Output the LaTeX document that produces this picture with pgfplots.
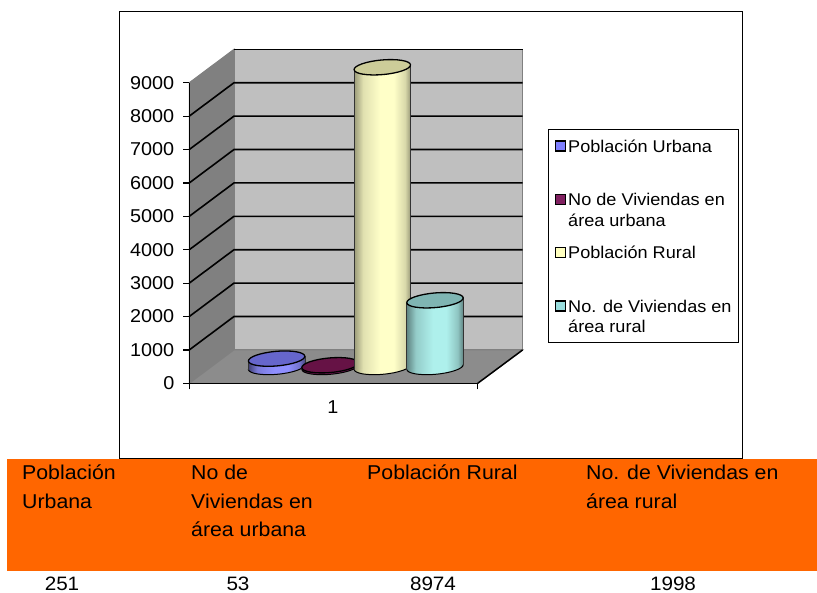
\documentclass[border=0pt]{standalone}
\usepackage{fontspec}
\setmainfont[FakeStretch=1.065]{Liberation Sans}
\usepackage{pgfplots}
\pgfplotsset{compat=1.18}
\definecolor{cA}{HTML}{8F8FFF}
\definecolor{cB}{HTML}{7A1A5A}
\definecolor{cC}{HTML}{FFFFC8}
\definecolor{cD}{HTML}{AEF0EC}
\definecolor{capA}{HTML}{6666CC}
\definecolor{capB}{HTML}{661245}
\definecolor{capC}{HTML}{CCCC99}
\definecolor{capD}{HTML}{7FB5B3}
\definecolor{swA}{HTML}{7F7FFF}
\definecolor{swB}{HTML}{802060}
\definecolor{swC}{HTML}{FFFFBF}
\definecolor{swD}{HTML}{99DDDD}
\definecolor{orangeband}{HTML}{FF6600}
\pgfdeclarehorizontalshading{cylA}{100bp}{color(0bp)=(cA!45!black); color(25bp)=(cA!45!black); color(33bp)=(cA!85!black); color(48bp)=(cA); color(60bp)=(cA); color(70bp)=(cA!80!black); color(75bp)=(cA!50!black); color(100bp)=(cA!50!black)}
\pgfdeclarehorizontalshading{cylB}{100bp}{color(0bp)=(cB!45!black); color(25bp)=(cB!45!black); color(33bp)=(cB!85!black); color(48bp)=(cB); color(60bp)=(cB); color(70bp)=(cB!80!black); color(75bp)=(cB!50!black); color(100bp)=(cB!50!black)}
\pgfdeclarehorizontalshading{cylC}{100bp}{color(0bp)=(cC!60!black); color(25bp)=(cC!60!black); color(33bp)=(cC!88!black); color(48bp)=(cC); color(60bp)=(cC); color(70bp)=(cC!85!black); color(75bp)=(cC!60!black); color(100bp)=(cC!60!black)}
\pgfdeclarehorizontalshading{cylD}{100bp}{color(0bp)=(cD!55!black); color(25bp)=(cD!55!black); color(33bp)=(cD!85!black); color(48bp)=(cD); color(60bp)=(cD); color(70bp)=(cD!82!black); color(75bp)=(cD!55!black); color(100bp)=(cD!55!black)}
\newcommand\declcyl[1]{%
  \pgfdeclareplotmark{base#1}{\pgfpathellipse{\pgfpointorigin}{\pgfqpoint{28.2pt}{2.47pt}}{\pgfqpoint{-0.64pt}{7.27pt}}\pgfshadepath{cyl#1}{0}\pgfsetstrokecolor{black}\pgfsetlinewidth{1pt}\pgfusepath{stroke}}%
  \pgfdeclareplotmark{cap#1}{\pgfpathellipse{\pgfpointorigin}{\pgfqpoint{28.2pt}{2.47pt}}{\pgfqpoint{-0.64pt}{7.27pt}}\pgfsetfillcolor{cap#1}\pgfsetstrokecolor{black}\pgfsetlinewidth{1.3pt}\pgfusepath{fill,stroke}}%
}
\declcyl{A}\declcyl{B}\declcyl{C}\declcyl{D}
% #1 series letter, #2 x1, #3 centre, #4 x2, #5 value, #6-#9 corners
\newcommand\cyl[9]{%
  \addplot[only marks,mark=base#1] coordinates {(#3,0)};
  \addplot[shade,shading=cyl#1,shading angle=0,draw=none] coordinates {(#2,#6)(#2,#7)(#4,#9)(#4,#8)} --cycle;
  \addplot[black!80,line width=1pt] coordinates {(#2,#6)(#2,#7)};
  \addplot[black!80,line width=1pt] coordinates {(#4,#8)(#4,#9)};
  \addplot[only marks,mark=cap#1] coordinates {(#3,#5)};
}
\pgfplotsset{legsw/.style={/pgfplots/legend image code/.code={\draw[##1,line width=1.5pt] (6.8pt,5pt) rectangle (16.8pt,15pt);\path[draw=none,fill=none] (0pt,0pt) -- (19.7pt,0pt);}}}
\newcommand\legtext[1]{\parbox[t]{170pt}{\baselineskip=20.5pt\raggedright #1}}
\begin{document}
\begin{tikzpicture}
\useasboundingbox (0pt,-592pt) rectangle (817pt,0pt);
\begin{scope}[x=1pt,y=-1pt]
  \fill[white] (0,0) rectangle (817,592);
  \draw[black,line width=0.9pt] (119.5,11) rectangle (742,458);
  \fill[orangeband] (7,459) rectangle (817,571);
  \begin{scope}[font=\fontsize{20}{28.5}\selectfont,inner sep=0pt]
    \node[anchor=base west] at (22,479.5) {\parbox[t]{150pt}{\baselineskip=28.5pt\raggedright Población\\Urbana}};
    \node[anchor=base west] at (191,479.5) {\parbox[t]{150pt}{\baselineskip=28.5pt\raggedright No de\\Viviendas en\\área urbana}};
    \node[anchor=base west] at (367,479.5) {Población Rural};
    \node[anchor=base west] at (586,479.5) {\parbox[t]{220pt}{\baselineskip=28.5pt\raggedright No. de Viviendas en\\área rural}};
  \end{scope}
  \begin{scope}[font=\fontsize{19.4}{24}\selectfont,inner sep=0pt]
    \node[anchor=base] at (62,590.6) {251};
    \node[anchor=base] at (238,590.6) {53};
    \node[anchor=base] at (433,590.6) {8974};
    \node[anchor=base] at (673,590.6) {1998};
  \end{scope}
\end{scope}
\begin{axis}[
  at={(189.3pt,-383.3pt)},anchor=south west,
  scale only axis,width=288.4pt,height=300.6pt,
  xmin=189.3,xmax=477.7,ymin=0,ymax=9000,clip=false,axis on top,
  axis x line*=bottom,axis y line*=left,
  axis line style={black,line width=1.3pt},
  tick style={black,line width=1.2pt},
  major tick length=6pt,tick align=outside,
  ytick={0,1000,2000,3000,4000,5000,6000,7000,8000,9000},
  xtick={189.3,477.7},xticklabels={,},
  extra x ticks={333},extra x tick labels={1},
  extra x tick style={major tick length=0pt},
  /pgf/number format/assume math mode=true,
  /pgf/number format/set thousands separator={},
  tick label style={font=\fontsize{18.6}{22}\selectfont,black},
  yticklabel style={xshift=-5.5pt},
  xticklabel style={yshift=-14pt},
  legend cell align=left,
  legend style={at={(1.2437,0.846)},anchor=north west,draw=black,line width=1pt,fill=white,inner sep=0pt,
    font=\fontsize{17}{20.5}\selectfont,row sep=0pt,
    nodes={inner sep=0pt,text height=22.7pt,text depth=30.6pt}},
]
\addlegendimage{fill=swA,draw=black,legsw}
\addlegendentry{\legtext{Población Urbana}}
\addlegendimage{fill=swB,draw=black,legsw}
\addlegendentry{\legtext{No de Viviendas en\\área urbana}}
\addlegendimage{fill=swC,draw=black,legsw}
\addlegendentry{\legtext{Población Rural}}
\addlegendimage{fill=swD,draw=black,legsw}
\addlegendentry{\legtext{No. de Viviendas en\\área rural}}
% walls
\addplot[fill=black!25,draw=black!50,line width=1pt] coordinates {(234,1000)(522.7,1000)(522.7,10000)(234,10000)} --cycle;
\addplot[fill=black!50,draw=black!50,line width=1pt] coordinates {(189.3,0)(234,1000)(234,10000)(189.3,9000)} --cycle;
\addplot[fill=black!45,draw=black!50,line width=1pt] coordinates {(189.3,0)(477.7,0)(522.7,1000)(234,1000)} --cycle;
% grid
\addplot[black,line width=1.6pt] coordinates {(189.3,1000)(234,2000)(522.7,2000)};
\addplot[black,line width=1.6pt] coordinates {(189.3,2000)(234,3000)(522.7,3000)};
\addplot[black,line width=1.6pt] coordinates {(189.3,3000)(234,4000)(522.7,4000)};
\addplot[black,line width=1.6pt] coordinates {(189.3,4000)(234,5000)(522.7,5000)};
\addplot[black,line width=1.6pt] coordinates {(189.3,5000)(234,6000)(522.7,6000)};
\addplot[black,line width=1.6pt] coordinates {(189.3,6000)(234,7000)(522.7,7000)};
\addplot[black,line width=1.6pt] coordinates {(189.3,7000)(234,8000)(522.7,8000)};
\addplot[black,line width=1.6pt] coordinates {(189.3,8000)(234,9000)(522.7,9000)};
\addplot[black,line width=1.6pt] coordinates {(234,10000)(522.7,10000)};
\addplot[black,line width=1.5pt] coordinates {(477.7,0)(522.7,1000)};
\end{axis}
\begin{axis}[
  at={(189.3pt,-367pt)},anchor=south west,
  scale only axis,width=288.4pt,height=300.6pt,
  xmin=189.3,xmax=477.7,ymin=0,ymax=9000,clip=false,hide axis,
  clip mode=individual,clip marker paths=true,
]
\cyl{A}{248.3}{276.6}{305}{251}{-75}{176}{75}{326}
\cyl{B}{301.7}{330}{358}{53}{-75}{-22}{75}{128}
\cyl{C}{354}{382.3}{410.7}{8974}{-75}{8899}{75}{9049}
\cyl{D}{406.7}{435}{463.3}{1998}{-75}{1923}{75}{2073}
\end{axis}
\end{tikzpicture}
\end{document}
